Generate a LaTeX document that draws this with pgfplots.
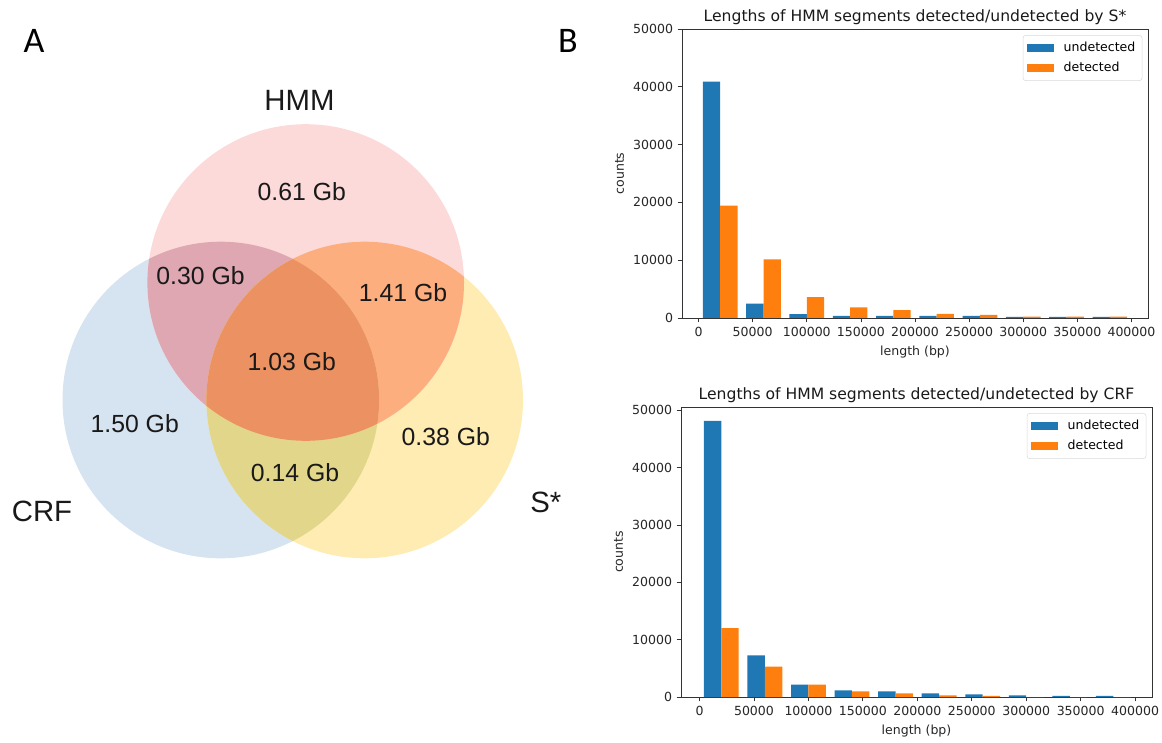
\documentclass[border=0pt]{standalone}
\usepackage{fontspec}
\usepackage{pgfplots}
\pgfplotsset{compat=1.18}
\newfontfamily\djv{DejaVu Sans}
\newfontfamily\lib{Liberation Sans}
\newfontfamily\carl{Carlito}
\definecolor{tabblue}{HTML}{1F77B4}
\definecolor{taborange}{HTML}{FF7F0E}
\definecolor{cH}{RGB}{253,218,218}
\definecolor{cC}{RGB}{214,227,240}
\definecolor{cS}{RGB}{254,236,178}
\definecolor{cHC}{RGB}{222,167,178}
\definecolor{cHS}{RGB}{253,174,126}
\definecolor{cCS}{RGB}{226,214,138}
\definecolor{cHCS}{RGB}{236,146,98}
\newcommand{\R}{118.725pt}
\newcommand{\tickfont}{\djv\fontsize{9.4}{11}\selectfont}
\pgfplotsset{
  histstyle/.style={
    scale only axis,
    xmin=-15300, xmax=415300, ymin=0,
    xtick={0,50000,...,400000},
    ytick={0,10000,...,50000},
    scaled ticks=false,
    tick pos=left,
    tick align=outside,
    major tick length=3.2pt,
    tick style={black!80, line width=0.6pt},
    axis line style={black!80, line width=0.6pt},
    /pgf/number format/fixed,
    /pgf/number format/1000 sep={},
    /pgf/number format/assume math mode=true,
    ticklabel style={font=\tickfont, text=black!85},
    title style={font=\djv\fontsize{11.7}{14}\selectfont, text=black!90, at={(0.5,1)}, anchor=base, yshift=-0.5pt},
    label style={font=\tickfont, text=black!85},
    xlabel={length (bp)},
    ylabel={counts},
    legend image code/.code={\fill[##1, sharp corners] (0pt,-3.1pt) rectangle (20pt,3.1pt); \path (25.5pt,0pt);},
    legend style={at={(1,1)}, anchor=north east, xshift=-4.3pt, yshift=-4.6pt,
      draw=black!15, rounded corners=2pt, fill=white, font=\tickfont,
      row sep=2.6pt, inner xsep=3pt, inner ysep=3pt},
    legend cell align=left,
  },
  histbar/.style={ybar, bar width=16000, bar shift=0pt, draw=none, fill=#1},
}
\begin{document}
\begin{tikzpicture}
\useasboundingbox (0,0) rectangle (871.5pt,556.5pt);
% ---------------- Venn diagram (panel A) ----------------
\begin{axis}[
  at={(0pt,0pt)}, anchor=south west,
  scale only axis, width=435pt, height=556.5pt,
  xmin=0, xmax=580, ymin=0, ymax=742, y dir=reverse,
  hide axis, clip=false]
  \fill[cC] (axis cs:220.8,400) circle[radius=\R];
  \fill[cS] (axis cs:364.7,400) circle[radius=\R];
  \fill[cH] (axis cs:305.7,282.5) circle[radius=\R];
  \begin{scope}
    \clip (axis cs:305.7,282.5) circle[radius=\R];
    \fill[cHC] (axis cs:220.8,400) circle[radius=\R];
  \end{scope}
  \begin{scope}
    \clip (axis cs:305.7,282.5) circle[radius=\R];
    \fill[cHS] (axis cs:364.7,400) circle[radius=\R];
  \end{scope}
  \begin{scope}
    \clip (axis cs:220.8,400) circle[radius=\R];
    \fill[cCS] (axis cs:364.7,400) circle[radius=\R];
  \end{scope}
  \begin{scope}
    \clip (axis cs:305.7,282.5) circle[radius=\R];
    \clip (axis cs:220.8,400) circle[radius=\R];
    \fill[cHCS] (axis cs:364.7,400) circle[radius=\R];
  \end{scope}
  \begin{scope}[every node/.style={inner sep=0pt, font=\lib\fontsize{18.6}{22}\selectfont, text=black!90}]
    \node at (axis cs:301.8,191.3) {0.61 Gb};
    \node at (axis cs:200.5,275.8) {0.30 Gb};
    \node at (axis cs:403,292.8) {1.41 Gb};
    \node at (axis cs:291.8,361.7) {1.03 Gb};
    \node at (axis cs:134.7,424) {1.50 Gb};
    \node at (axis cs:445.8,436.8) {0.38 Gb};
    \node at (axis cs:295,472.2) {0.14 Gb};
  \end{scope}
  \begin{scope}[every node/.style={inner sep=0pt, font=\lib\fontsize{22}{26}\selectfont, text=black!90}]
    \node at (axis cs:299.5,100) {HMM};
    \node at (axis cs:42,511) {CRF};
    \node[anchor=west] at (axis cs:530,502) {S*};
  \end{scope}
  \node[inner sep=0pt, font=\carl\fontsize{27}{30}\selectfont] at (axis cs:34,40.5) {A};
  \node[inner sep=0pt, font=\carl\fontsize{27}{30}\selectfont] at (axis cs:568,40.5) {B};
\end{axis}
% ---------------- Histogram S* ----------------
\begin{axis}[histstyle,
  at={(511.5pt,318pt)}, anchor=south west,
  width=349.5pt, height=216.75pt,
  ymax=50000,
  title={Lengths of HMM segments detected/undetected by S*}]
  \addplot[histbar=tabblue] coordinates {
    (12000,40900) (52000,2500) (92000,660) (132000,350) (172000,350)
    (212000,350) (252000,350) (292000,210) (332000,210) (372000,210)};
  \addlegendentry{undetected}
  \addplot[histbar=taborange] coordinates {
    (28000,19450) (68000,10160) (108000,3590) (148000,1820) (188000,1340)
    (228000,700) (268000,520) (308000,230) (348000,230) (388000,230)};
  \addlegendentry{detected}
\end{axis}
% ---------------- Histogram CRF ----------------
\begin{axis}[histstyle,
  at={(510.75pt,33.75pt)}, anchor=south west,
  width=353.25pt, height=217.5pt,
  xmin=-17000, xmax=415500,
  ymax=50570,
  title={Lengths of HMM segments detected/undetected by CRF}]
  \addplot[histbar=tabblue] coordinates {
    (12000,48150) (52000,7270) (92000,2160) (132000,1170) (172000,970)
    (212000,640) (252000,470) (292000,290) (332000,175) (372000,175)};
  \addlegendentry{undetected}
  \addplot[histbar=taborange] coordinates {
    (28000,12020) (68000,5280) (108000,2160) (148000,970) (188000,640)
    (228000,290) (268000,175) (308000,0) (348000,0) (388000,0)};
  \addlegendentry{detected}
\end{axis}
\end{tikzpicture}
\end{document}
